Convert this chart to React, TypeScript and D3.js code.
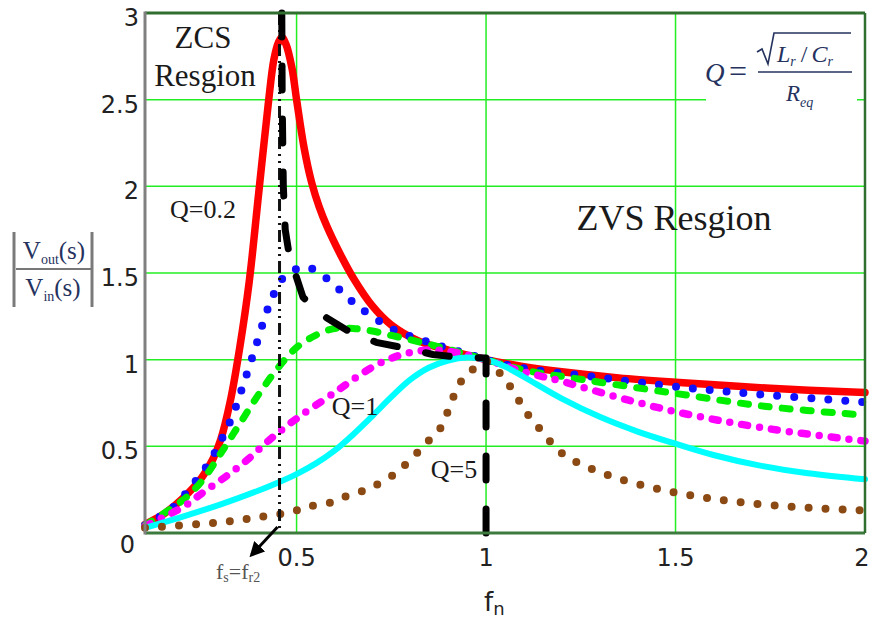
import React from "react";
import * as d3 from "d3";

const W = 872;
const H = 622;
const margin = { top: 13, right: 7, bottom: 89, left: 145 };

// tick values
const xTicks = [0.5, 1, 1.5, 2];
const yTicks = [0, 0.5, 1, 1.5, 2, 2.5, 3];
const xGrid = [0.5, 1, 1.5];
const yGrid = [0.5, 1, 1.5, 2, 2.5];

// gain curves [fn, |Vout/Vin|]
const gainQ02 = [
  [0.1, 0.05], [0.15, 0.11], [0.2, 0.2], [0.25, 0.32], [0.28, 0.43], [0.3, 0.54],
  [0.325, 0.76], [0.35, 1.07], [0.375, 1.45], [0.4, 1.96], [0.425, 2.47], [0.44, 2.73],
  [0.452, 2.83], [0.461, 2.86], [0.472, 2.82], [0.488, 2.68], [0.5, 2.5], [0.52, 2.22],
  [0.54, 2.02], [0.56, 1.88], [0.58, 1.77], [0.615, 1.61], [0.65, 1.47], [0.7, 1.31],
  [0.75, 1.2], [0.82, 1.11], [0.9, 1.055], [1.0, 1.0], [1.1, 0.96], [1.2, 0.93],
  [1.35, 0.895], [1.5, 0.87], [1.75, 0.835], [2.0, 0.81],
];
const gainQ03 = [
  [0.1, 0.045], [0.17, 0.14], [0.23, 0.29], [0.27, 0.41], [0.3, 0.53], [0.33, 0.67],
  [0.36, 0.86], [0.39, 1.06], [0.42, 1.27], [0.44, 1.38], [0.46, 1.46], [0.48, 1.5],
  [0.51, 1.53], [0.535, 1.53], [0.567, 1.49], [0.6, 1.43], [0.63, 1.37], [0.66, 1.31],
  [0.7, 1.25], [0.75, 1.18], [0.8, 1.135], [0.85, 1.1], [0.9, 1.065], [0.95, 1.035],
  [1.0, 1.0], [1.1, 0.95], [1.25, 0.91], [1.52, 0.84], [1.75, 0.795], [2.0, 0.755],
];
const gainQ05 = [
  [0.1, 0.045], [0.2, 0.19], [0.25, 0.3], [0.3, 0.46], [0.35, 0.63], [0.4, 0.8],
  [0.45, 0.95], [0.5, 1.07], [0.55, 1.14], [0.6, 1.18], [0.65, 1.18], [0.7, 1.165],
  [0.75, 1.14], [0.8, 1.115], [0.9, 1.06], [1.0, 1.0], [1.1, 0.94], [1.21, 0.9],
  [1.485, 0.81], [1.74, 0.73], [2.0, 0.68],
];
const gainQ1 = [
  [0.1, 0.04], [0.2, 0.15], [0.263, 0.25], [0.316, 0.33], [0.369, 0.42], [0.43, 0.54],
  [0.5, 0.66], [0.58, 0.78], [0.62, 0.84], [0.659, 0.9], [0.72, 0.98], [0.78, 1.03],
  [0.852, 1.056], [0.923, 1.04], [1.0, 1.0], [1.1, 0.93], [1.2, 0.875], [1.345, 0.785],
  [1.5, 0.7], [1.72, 0.61], [2.0, 0.53],
];
const gainQ2 = [
  [0.1, 0.03], [0.2, 0.095], [0.3, 0.165], [0.4, 0.245], [0.45, 0.29], [0.5, 0.34],
  [0.55, 0.4], [0.6, 0.475], [0.65, 0.57], [0.7, 0.675], [0.75, 0.785], [0.8, 0.885],
  [0.85, 0.955], [0.9, 0.995], [0.95, 1.012], [1.0, 1.0], [1.05, 0.96], [1.1, 0.9],
  [1.2, 0.775], [1.3, 0.67], [1.4, 0.585], [1.5, 0.515], [1.6, 0.45], [1.72, 0.39],
  [1.85, 0.345], [2.0, 0.31],
];
const gainQ5 = [
  [0.1, 0.03], [0.21, 0.046], [0.306, 0.063], [0.395, 0.09], [0.483, 0.12], [0.527, 0.15],
  [0.588, 0.175], [0.615, 0.2], [0.694, 0.26], [0.765, 0.35], [0.79, 0.4], [0.826, 0.48],
  [0.852, 0.54], [0.878, 0.6], [0.897, 0.69], [0.931, 0.865], [0.963, 0.94], [1.0, 0.99],
  [1.045, 0.9], [1.07, 0.825], [1.108, 0.69], [1.15, 0.58], [1.2, 0.46], [1.32, 0.335],
  [1.485, 0.24], [1.66, 0.18], [1.855, 0.145], [2.0, 0.13],
];
// locus of peak gain (boundary ZCS / ZVS)
const boundary = [
  [0.461, 3.0], [0.462, 2.5], [0.465, 2.0], [0.47, 1.75], [0.478, 1.64], [0.496, 1.5],
  [0.517, 1.36], [0.55, 1.29], [0.58, 1.24], [0.633, 1.17], [0.71, 1.1], [0.78, 1.07],
  [0.86, 1.03], [0.92, 1.015], [1.0, 1.01], [1.0, 0],
];
const fr2 = 0.455;

const series = [
  { data: gainQ02, color: "#ff0000", width: 7.5, dash: null },
  { data: gainQ03, color: "#1010ff", width: 8, dash: "0 17" },
  { data: gainQ05, color: "#00ee00", width: 7, dash: "8 13" },
  { data: gainQ1, color: "#ff00ff", width: 7.5, dash: "6 12 0 12" },
  { data: gainQ2, color: "#00ffff", width: 6, dash: null },
  { data: gainQ5, color: "#8b4a14", width: 8, dash: "0 17" },
];

const serif = "'Liberation Serif', 'Times New Roman', serif";
const sans = "'DejaVu Sans', Verdana, sans-serif";
const navy = "#25325e";

export default function App() {
  const iw = W - margin.left - margin.right;
  const ih = H - margin.top - margin.bottom;
  const x = d3.scaleLinear().domain([0.1, 2]).range([margin.left, margin.left + iw]);
  const y = d3.scaleLinear().domain([0, 3]).range([margin.top + ih, margin.top]);

  const smooth = d3
    .line<number[]>()
    .x((d) => x(d[0]))
    .y((d) => y(d[1]))
    .curve(d3.curveCatmullRom.alpha(0.5));
  const straight = d3
    .line<number[]>()
    .x((d) => x(d[0]))
    .y((d) => y(d[1]));

  const x0 = x(0.1);
  const x1 = x(2);
  const yTop = y(3);
  const yBot = y(0);
  const ax = x(fr2);

  return (
    <svg
      width={W}
      height={H}
      style={{ position: "absolute", left: 0, top: 0, background: "#fff" }}
    >
      <defs>
        <marker id="arr" viewBox="0 0 10 10" refX="8" refY="5" markerWidth="5" markerHeight="5" orient="auto">
          <path d="M0,0 L10,5 L0,10 z" fill="#000" />
        </marker>
      </defs>
      <rect width={W} height={H} fill="#fff" />

      {/* grid */}
      {xGrid.map((v) => (
        <line key={"gx" + v} x1={x(v)} x2={x(v)} y1={yTop} y2={yBot} stroke="#22ee22" strokeWidth={1.5} />
      ))}
      {yGrid.map((v) => (
        <line key={"gy" + v} x1={x0} x2={x1} y1={y(v)} y2={y(v)} stroke="#22ee22" strokeWidth={1.5} />
      ))}
      {/* white box behind the Q formula */}
      <rect x={706} y={24} width={151} height={92} fill="#fff" />

      {/* curves */}
      {series.map((s, i) => (
        <path
          key={i}
          d={smooth(s.data) || ""}
          fill="none"
          stroke={s.color}
          strokeWidth={s.width}
          strokeDasharray={s.dash || undefined}
          strokeLinecap="round"
          strokeLinejoin="round"
        />
      ))}

      {/* f_s = f_r2 dash-dot line */}
      <line x1={ax} x2={ax} y1={yTop} y2={yBot} stroke="#111" strokeWidth={3} strokeDasharray="12 5 2 5 2 5" />
      {/* boundary thick dashed */}
      <path
        d={straight(boundary) || ""}
        fill="none"
        stroke="#000"
        strokeWidth={7}
        strokeDasharray="24 29"
        strokeLinecap="round"
        strokeLinejoin="round"
      />

      {/* frame */}
      <line x1={x0} x2={x1} y1={yTop} y2={yTop} stroke="#2f6e2f" strokeWidth={3} />
      <line x1={x0} x2={x1} y1={yBot} y2={yBot} stroke="#3d7a3d" strokeWidth={3} />
      <line x1={x1} x2={x1} y1={yTop} y2={yBot} stroke="#2f6e2f" strokeWidth={2.5} />
      <line x1={x0} x2={x0} y1={yTop - 1.5} y2={yBot + 1.5} stroke="#808080" strokeWidth={3} />

      {/* ticks */}
      {yTicks.map((v) => (
        <text
          key={"yt" + v}
          x={v === 0 ? 135 : 139}
          y={y(v) + (v === 0 ? 12 : 5)}
          textAnchor="end"
          dominantBaseline="central"
          fontFamily={sans}
          fontSize={24}
          fill="#222"
        >
          {v}
        </text>
      ))}
      {xTicks.map((v) => (
        <text
          key={"xt" + v}
          x={v === 2 ? x(v) - 3 : x(v)}
          y={558}
          textAnchor="middle"
          dominantBaseline="central"
          fontFamily={sans}
          fontSize={24}
          fill="#222"
        >
          {v}
        </text>
      ))}

      {/* x axis title */}
      <text x={484} y={611} fontFamily={sans} fontSize={26} fill="#222">
        f<tspan fontSize={18} dy={4}>n</tspan>
      </text>

      {/* y axis title */}
      <g stroke="#7a7a7a" strokeWidth={3}>
        <line x1={14} x2={14} y1={232} y2={307} />
        <line x1={92} x2={92} y1={232} y2={307} />
      </g>
      <line x1={16} x2={91} y1={269} y2={269} stroke="#777" strokeWidth={2} />
      <text x={54} y={259} textAnchor="middle" fontFamily={serif} fontSize={25} fill={navy}>
        V<tspan fontSize={14} dy={5}>out</tspan>
        <tspan dy={-5}>(s)</tspan>
      </text>
      <text x={53} y={296} textAnchor="middle" fontFamily={serif} fontSize={25} fill={navy}>
        V<tspan fontSize={14} dy={5}>in</tspan>
        <tspan dy={-5}>(s)</tspan>
      </text>

      {/* region labels */}
      <g fontFamily={serif} fill="#1a1a1a">
        <text x={203} y={48} textAnchor="middle" fontSize={31}>ZCS</text>
        <text x={205} y={86} textAnchor="middle" fontSize={31}>Resgion</text>
        <text x={203} y={218} textAnchor="middle" fontSize={26}>Q=0.2</text>
        <text x={355} y={415} textAnchor="middle" fontSize={26}>Q=1</text>
        <text x={454} y={478} textAnchor="middle" fontSize={26}>Q=5</text>
        <text x={674} y={230} textAnchor="middle" fontSize={36}>ZVS Resgion</text>
      </g>

      {/* Q formula */}
      <g fontFamily={serif} fill={navy}>
        <text x={705} y={82} fontSize={27} fontStyle="italic">Q</text>
        <text x={729} y={82} fontSize={32}>=</text>
        <path d="M757,52 L762,49 L768,64 L774,33 L851,33" fill="none" stroke={navy} strokeWidth={1.6} />
        <text x={777} y={62} fontSize={24} fontStyle="italic">
          L<tspan fontSize={14} dy={4}>r</tspan>
          <tspan dy={-4} dx={5} fontStyle="normal">/</tspan>
          <tspan dx={4}>C</tspan>
          <tspan fontSize={14} dy={4}>r</tspan>
        </text>
        <line x1={758} x2={852} y1={72} y2={72} stroke={navy} strokeWidth={1.6} />
        <text x={786} y={101} fontSize={23} fontStyle="italic">
          R<tspan fontSize={14} dy={6}>eq</tspan>
        </text>
      </g>

      {/* f_s = f_r2 arrow */}
      <line x1={ax - 2} y1={yBot - 6} x2={ax - 28} y2={yBot + 22} stroke="#000" strokeWidth={3} markerEnd="url(#arr)" />
      <text x={216} y={579} fontFamily={serif} fontSize={22} fill="#555">
        f<tspan fontSize={14} dy={3}>s</tspan>
        <tspan dy={-3}>=f</tspan>
        <tspan fontSize={14} dy={3}>r2</tspan>
      </text>
    </svg>
  );
}
